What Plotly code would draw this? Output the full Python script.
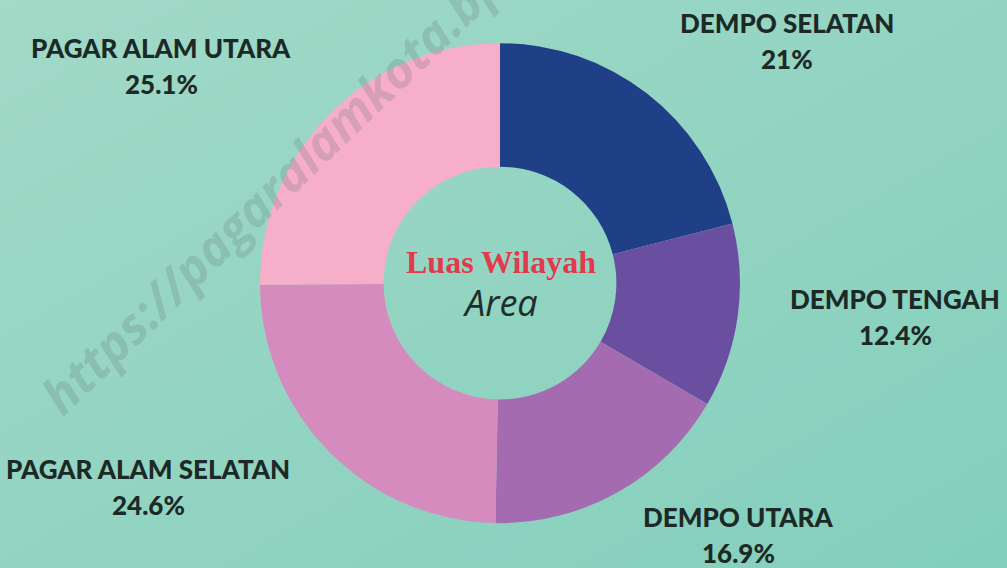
import base64
import plotly.graph_objects as go

# Luas wilayah per kecamatan (%)
kecamatan = ["DEMPO SELATAN", "DEMPO TENGAH", "DEMPO UTARA",
             "PAGAR ALAM SELATAN", "PAGAR ALAM UTARA"]
persen = [21, 12.4, 16.9, 24.6, 25.1]
warna = ["#1F3F87", "#6A4FA0", "#A46BB0", "#D68BBE", "#F7AEC9"]

W, H = 1007, 568
# label centres in page pixels (from top-left)
label_px = [(787, 23), (895, 299), (738, 517), (148, 469), (161, 48)]
gap = 36  # px between name and percentage

# soft diagonal teal background
svg = (
    f'<svg xmlns="http://www.w3.org/2000/svg" width="{W}" height="{H}" '
    f'viewBox="0 0 {W} {H}" preserveAspectRatio="none">'
    '<defs><linearGradient id="g" x1="0" y1="0" x2="1" y2="1">'
    '<stop offset="0" stop-color="#A2D9C7"/>'
    '<stop offset="1" stop-color="#83CFBC"/>'
    '</linearGradient></defs>'
    f'<rect width="{W}" height="{H}" fill="url(#g)"/></svg>'
)
bg_uri = "data:image/svg+xml;base64," + base64.b64encode(svg.encode()).decode()

fig = go.Figure()
fig.add_trace(go.Pie(
    labels=kecamatan,
    values=persen,
    marker=dict(colors=warna, line=dict(width=0)),
    hole=0.485,
    sort=False,
    direction="clockwise",
    rotation=0,
    textinfo="none",
    hoverinfo="label+percent",
    showlegend=False,
    domain=dict(x=[0.258, 0.735], y=[0.079, 0.924]),
))

annotations = []
label_font = dict(family="Lato", size=26, color="#1C2A27", weight=900)
for nama, p, (px, py) in zip(kecamatan, persen, label_px):
    annotations.append(dict(
        x=px / W, y=1 - py / H, xref="paper", yref="paper", showarrow=False,
        text=nama, font=label_font, xanchor="center", yanchor="middle",
    ))
    annotations.append(dict(
        x=px / W, y=1 - (py + gap) / H, xref="paper", yref="paper",
        showarrow=False, text=f"{p:g}%", font=label_font,
        xanchor="center", yanchor="middle",
    ))

# centre text
annotations.append(dict(
    x=501 / W, y=1 - 262 / H, xref="paper", yref="paper", showarrow=False,
    text="<b>Luas Wilayah</b>", xanchor="center", yanchor="middle",
    font=dict(family="Liberation Serif", size=32, color="#E13A4D"),
))
annotations.append(dict(
    x=500 / W, y=1 - 302 / H, xref="paper", yref="paper", showarrow=False,
    text="<i>Area</i>", xanchor="center", yanchor="middle",
    font=dict(family="Open Sans", size=36, color="#1E2E2B"),
))

# watermark
annotations.append(dict(
    x=328 / W, y=1 - 135 / H, xref="paper", yref="paper", showarrow=False,
    text="<b><i>https://pagaralamkota.bps.go.id</i></b>",
    textangle=-44, xanchor="center", yanchor="middle",
    font=dict(family="Open Sans", size=50, color="rgba(95,115,110,0.22)"),
))

fig.update_layout(
    width=W, height=H,
    margin=dict(l=0, r=0, t=0, b=0),
    paper_bgcolor="#93D5C3",
    plot_bgcolor="#93D5C3",
    annotations=annotations,
    images=[dict(
        source=bg_uri, xref="paper", yref="paper", x=0, y=1,
        sizex=1, sizey=1, xanchor="left", yanchor="top",
        sizing="stretch", layer="below",
    )],
)

fig.write_html("out.html", config={"displayModeBar": False},
               post_script="document.body.style.margin='0';")
